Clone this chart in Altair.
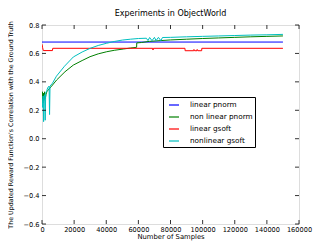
import altair as alt
import pandas as pd

# ---- data ----
series_names = ["linear pnorm", "non linear pnorm", "linear gsoft", "nonlinear gsoft"]
series_colors = ["#0000ff", "#008000", "#ff0000", "#00bfbf"]

blue_x = [0, 150000]
blue_y = [0.680, 0.680]

green_x = [0, 300, 600, 900, 1200, 1600, 2000, 2500, 3000, 3900, 6000, 9100, 14300,
           19500, 25000, 29900, 35000, 40300, 45000, 50600, 55000, 58900, 59000,
           62000, 67000, 80000, 90000, 100000, 110000, 120000, 130000, 140000, 150000]
green_y = [0.27, 0.33, 0.25, 0.32, 0.27, 0.33, 0.28, 0.31, 0.33, 0.343, 0.37, 0.413, 0.471,
           0.518, 0.55, 0.577, 0.597, 0.612, 0.622, 0.631, 0.638, 0.643, 0.674,
           0.677, 0.685, 0.695, 0.700, 0.705, 0.709, 0.713, 0.717, 0.720, 0.723]

red_x = [0, 400, 800, 6500, 6700, 69000, 69100, 69300, 89000, 89100, 94500, 94600, 95000,
         96500, 96600, 97000, 99400, 99500, 150000]
red_y = [0.665, 0.64, 0.62, 0.62, 0.636, 0.636, 0.624, 0.636, 0.636, 0.619, 0.619, 0.628, 0.619,
         0.619, 0.628, 0.619, 0.619, 0.636, 0.636]

cyan_x = [0, 400, 700, 1000, 1300, 1700, 2000, 2300, 3000, 3600, 4400, 4700, 5000, 6500,
          9000, 14000, 19500, 25000, 30000, 35000, 40000, 45000, 50000, 55000, 60000,
          65000, 66000, 67000, 68500, 70000, 71000, 72500, 74000, 75000, 80000, 90000,
          100000, 110000, 120000, 130000, 140000, 150000]
cyan_y = [0.28, 0.22, 0.30, 0.12, 0.30, 0.31, 0.13, 0.32, 0.34, 0.36, 0.37, 0.17, 0.37, 0.39,
          0.44, 0.51, 0.575, 0.61, 0.636, 0.656, 0.671, 0.684, 0.694, 0.700, 0.705,
          0.707, 0.690, 0.712, 0.690, 0.713, 0.690, 0.713, 0.690, 0.712, 0.713, 0.717,
          0.720, 0.723, 0.726, 0.729, 0.731, 0.734]

x_ticks = [0, 20000, 40000, 60000, 80000, 100000, 120000, 140000, 160000]
y_ticks = [-0.6, -0.4, -0.2, 0.0, 0.2, 0.4, 0.6, 0.8]

rows = []
for name, xs, ys in zip(series_names,
                        [blue_x, green_x, red_x, cyan_x],
                        [blue_y, green_y, red_y, cyan_y]):
    for i, (a, b) in enumerate(zip(xs, ys)):
        rows.append({"samples": a, "value": b, "series": name, "idx": i})
df = pd.DataFrame(rows)

W, H = 257, 199
FONT = "DejaVu Sans"

xscale = alt.Scale(domain=[0, 160000], nice=False, zero=False)
yscale = alt.Scale(domain=[-0.6, 0.8], nice=False, zero=False)

xaxis = alt.Axis(title="Number of Samples", values=x_ticks, format="d",
                 grid=False, ticks=False, domain=False, labelPadding=2,
                 labelFontSize=6.6, titleFontSize=6.8, titlePadding=1,
                 labelFont=FONT, titleFont=FONT, titleFontWeight="normal",
                 labelColor="black", titleColor="black", labelFlush=False,
                 titleLimit=500)
yaxis = alt.Axis(title="The Updated Reward Function's Correlation with the Ground Truth",
                 values=y_ticks, format=".1f", grid=False, ticks=False, domain=False,
                 labelPadding=3, labelFontSize=6.6, titleFontSize=6.3,
                 labelFont=FONT, titleFont=FONT, titleFontWeight="normal",
                 labelColor="black", titleColor="black", labelFlush=False,
                 titleX=-29, titleY=H / 2, titleLimit=500)

lines = alt.Chart(df).mark_line(strokeWidth=1, clip=True).encode(
    x=alt.X("samples:Q", scale=xscale, axis=xaxis),
    y=alt.Y("value:Q", scale=yscale, axis=yaxis),
    color=alt.Color("series:N",
                    scale=alt.Scale(domain=series_names, range=series_colors),
                    legend=alt.Legend(title=None, orient="none", legendX=121, legendY=72,
                                      symbolType="stroke", symbolSize=100,
                                      symbolStrokeWidth=1.2, symbolOffset=3,
                                      labelFontSize=7.3, labelFontWeight="normal",
                                      labelFont=FONT, labelColor="black",
                                      strokeColor="black", fillColor="white",
                                      padding=2, rowPadding=2, cornerRadius=0,
                                      labelOffset=10)),
    order="idx:Q",
)

xt = pd.DataFrame({"samples": x_ticks})
yt = pd.DataFrame({"value": y_ticks})

xtick_b = alt.Chart(xt).mark_rule(color="black", strokeWidth=0.8).encode(
    x=alt.X("samples:Q", scale=xscale, axis=xaxis), y=alt.value(H), y2=alt.value(H - 4))
xtick_t = alt.Chart(xt).mark_rule(color="black", strokeWidth=0.8).encode(
    x=alt.X("samples:Q", scale=xscale, axis=xaxis), y=alt.value(0), y2=alt.value(4))
ytick_l = alt.Chart(yt).mark_rule(color="black", strokeWidth=0.8).encode(
    y=alt.Y("value:Q", scale=yscale, axis=yaxis), x=alt.value(0), x2=alt.value(4))
ytick_r = alt.Chart(yt).mark_rule(color="black", strokeWidth=0.8).encode(
    y=alt.Y("value:Q", scale=yscale, axis=yaxis), x=alt.value(W), x2=alt.value(W - 4))

chart = alt.layer(lines, xtick_b, xtick_t, ytick_l, ytick_r).properties(
    width=W, height=H,
    title=alt.TitleParams("Experiments in ObjectWorld", fontSize=8, font=FONT,
                          fontWeight="normal", color="black", offset=3),
    autosize=alt.AutoSizeParams(type="none"),
    padding={"left": 34, "top": 17, "right": 25, "bottom": 17},
).configure_view(stroke="black", strokeWidth=1).configure(background="white")

chart.save("out.html", embed_options={"renderer": "svg", "actions": False})
